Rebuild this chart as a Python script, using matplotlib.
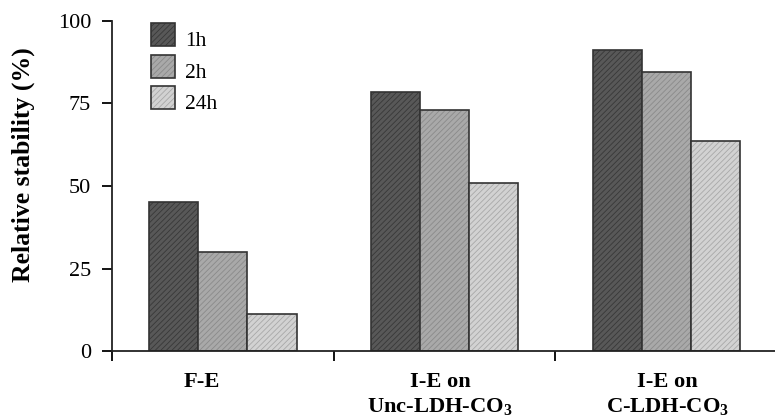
import matplotlib
matplotlib.use("Agg")
import matplotlib.pyplot as plt
import numpy as np
from matplotlib.patches import Rectangle

categories = ["F-E", "I-E on\nUnc-LDH-CO$_\\mathbf{3}$", "I-E on\nC-LDH-CO$_\\mathbf{3}$"]
series_names = ["1h", "2h", "24h"]
values_1h = [45.3, 78.4, 91.3]
values_2h = [30.1, 73.0, 84.5]
values_24h = [11.2, 51.0, 63.5]
yticks = [0, 25, 50, 75, 100]

plt.rcParams['font.family'] = ['Liberation Serif', 'DejaVu Serif']
plt.rcParams['mathtext.fontset'] = 'custom'
plt.rcParams['mathtext.rm'] = 'Liberation Serif'
plt.rcParams['mathtext.bf'] = 'Liberation Serif:bold'
plt.rcParams['hatch.linewidth'] = 0.6

W, H = 775, 417
fig = plt.figure(figsize=(W/100, H/100), dpi=100)
ax = fig.add_axes([112/W, 1-351/H, 1-112/W, 330/H])

faces = ['#585858', '#a9a9a9', '#d2d2d2']
hatchc = ['#383838', '#8a8a8a', '#a8a8a8']
edge = '#333333'
x = np.arange(len(categories))
w = 0.222
allvals = [values_1h, values_2h, values_24h]
for i, vals in enumerate(allvals):
    pos = x + (i - 1) * w
    ax.bar(pos, vals, w, color=faces[i], edgecolor=hatchc[i], hatch='//////', linewidth=0)
    ax.bar(pos, vals, w, fill=False, edgecolor=edge, linewidth=1.2)

ax.set_ylim(0, 100)
ax.set_xlim(-0.5, 2.49)
ax.set_yticks(yticks)
ax.set_yticklabels([str(t) for t in yticks], fontsize=16)
ax.set_xticks([-0.5, 0.5, 1.5])
ax.set_xticklabels([])
ax.tick_params(axis='y', direction='out', length=7.5, width=1.3, pad=7.5)
ax.tick_params(axis='x', direction='out', length=7.5, width=1.3)
for s in ['top', 'right']:
    ax.spines[s].set_visible(False)
for s in ['left', 'bottom']:
    ax.spines[s].set_linewidth(1.3)
    ax.spines[s].set_color('#222222')

offsets = [-0.095, -0.02, 0.005]
for i, c in enumerate(categories):
    ax.text(x[i] + offsets[i], -6.3, c, ha='center', va='top', fontsize=16.2,
            fontweight='bold', linespacing=1.3)

fig.text(23/W, 1-165/H, "Relative stability (%)", fontsize=18.5, fontweight='bold',
         rotation=90, ha='center', va='center')

# manual legend
leg_tops = [23, 55, 86]
for i, name in enumerate(series_names):
    top = leg_tops[i]
    for kw in (dict(facecolor=faces[i], edgecolor=hatchc[i], hatch='//////', linewidth=0),
               dict(fill=False, edgecolor=edge, linewidth=1.2)):
        fig.add_artist(Rectangle((151/W, 1-(top+23)/H), 24/W, 23/H,
                                 transform=fig.transFigure, **kw))
    fig.text(185/W, 1-(top+23)/H, name, fontsize=15.5, ha='left', va='baseline')

fig.savefig("out.png", dpi=100)
